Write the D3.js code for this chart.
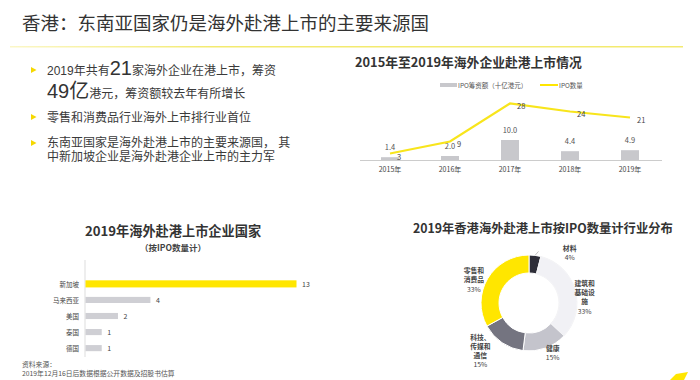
<!DOCTYPE html>
<html><head><meta charset="utf-8">
<script src="https://cdn.jsdelivr.net/npm/d3@7"></script>
<style>
html,body{margin:0;padding:0;background:#fff;}
svg{display:block;font-family:"Noto Sans CJK SC","Noto Sans",sans-serif;}
.bul{font-family:"Liberation Sans","Noto Sans CJK SC",sans-serif;}
</style></head>
<body>
<svg id="c" width="700" height="380"></svg>
<script>
// ---- data ----
const years = ["2015年","2016年","2017年","2018年","2019年"];
const ipoAmount = [1.4, 2.0, 10.0, 4.4, 4.9];   // 十亿港元
const ipoCount = [3, 9, 28, 24, 21];
const countries = ["新加坡","马来西亚","美国","泰国","德国"];
const countryCounts = [13, 4, 2, 1, 1];
const industries = ["材料","建筑和基础设施","健康","科技、传媒和通信","零售和消费品"];
const industryShares = [4, 33, 15, 15, 33];
const industryLabelLines = [["材料"],["建筑和","基础设","施"],["健康"],["科技、","传媒和","通信"],["零售和","消费品"]];

const YELLOW = "#ffe600", DARK = "#2e2e38";
const svg = d3.select("#c");
svg.append("rect").attr("width",700).attr("height",380).attr("fill","#fff");

// ---- header ----
svg.append("text").attr("x",22).attr("y",22).attr("dominant-baseline","central")
  .attr("font-size",18.5).attr("fill","#333").text("香港：东南亚国家仍是海外赴港上市的主要来源国");
const g0 = svg.append("defs").append("linearGradient").attr("id","rule");
g0.append("stop").attr("offset","0%").attr("stop-color","#fbf7c8");
g0.append("stop").attr("offset","30%").attr("stop-color","#f3ea70");
g0.append("stop").attr("offset","100%").attr("stop-color","#f3ea70");
svg.append("rect").attr("x",10).attr("y",46).attr("width",673).attr("height",1.5).attr("fill","url(#rule)");

// ---- bullets ----
function tri(y){ svg.append("path").attr("d",`M31,${y-3}L36.5,${y}L31,${y+3}Z`).attr("fill","#f5d800"); }
tri(70); tri(117); tri(143);
let t = svg.append("text").attr("class","bul").attr("x",47).attr("y",75).attr("fill","#3a3a3a").attr("font-size",12);
t.append("tspan").text("2019年共有");
t.append("tspan").attr("font-size",20).attr("fill","#333").text("21");
t.append("tspan").text("家海外企业在港上市，筹资");
t = svg.append("text").attr("class","bul").attr("x",47).attr("y",97.5).attr("fill","#3a3a3a").attr("font-size",12);
t.append("tspan").attr("font-size",20).attr("fill","#333").text("49亿");
t.append("tspan").text("港元，筹资额较去年有所增长");
svg.append("text").attr("class","bul").attr("x",47).attr("y",121.5).attr("fill","#3a3a3a").attr("font-size",12).text("零售和消费品行业海外上市排行业首位");
svg.append("text").attr("class","bul").attr("x",47).attr("y",147.3).attr("fill","#3a3a3a").attr("font-size",12).text("东南亚国家是海外赴港上市的主要来源国， 其");
svg.append("text").attr("class","bul").attr("x",47).attr("y",161).attr("fill","#3a3a3a").attr("font-size",12).text("中新加坡企业是海外赴港企业上市的主力军");

// ---- chart 1: bars + line ----
const x1 = d3.scaleBand().domain(years).range([360,660]).paddingInner(0.7).paddingOuter(0.35);
const y1 = d3.scaleLinear().domain([0,30]).range([160,100]);
svg.append("text").attr("x",355).attr("y",61).attr("dominant-baseline","central")
  .attr("font-size",12.8).attr("font-weight","bold").attr("fill","#333").text("2015年至2019年海外企业赴港上市情况");
// legend
svg.append("rect").attr("x",440).attr("y",83).attr("width",17).attr("height",4).attr("fill","#c8c8cc");
svg.append("text").attr("x",458).attr("y",85).attr("dominant-baseline","central").attr("font-size",6.5).attr("fill","#555").text("IPO筹资额（十亿港元）");
svg.append("line").attr("x1",540).attr("x2",558).attr("y1",85).attr("y2",85).attr("stroke",YELLOW).attr("stroke-width",2);
svg.append("text").attr("x",559).attr("y",85).attr("dominant-baseline","central").attr("font-size",6.5).attr("fill","#555").text("IPO数量");
// bars
svg.selectAll(".b1").data(years).join("rect")
  .attr("x",d=>x1(d)).attr("width",x1.bandwidth())
  .attr("y",(d,i)=>y1(ipoAmount[i])).attr("height",(d,i)=>y1(0)-y1(ipoAmount[i]))
  .attr("fill","#c8c8cc");
svg.selectAll(".bl").data(years).join("text")
  .attr("x",d=>x1(d)+x1.bandwidth()/2).attr("y",(d,i)=>y1(ipoAmount[i])-7)
  .attr("text-anchor","middle").attr("font-size",7.5).attr("fill","#555")
  .text((d,i)=>ipoAmount[i].toFixed(1));
// axis
const ax = svg.append("g").attr("transform","translate(0,160)").call(d3.axisBottom(x1).tickSize(0).tickPadding(7));
ax.select(".domain").attr("stroke","#ccc").attr("d","M360,0.5H662");
ax.selectAll("text").attr("font-size",7).attr("fill","#444").attr("font-family",'"Noto Sans CJK SC",sans-serif');
// line
const cx = d=>x1(d)+x1.bandwidth()/2;
svg.append("path").datum(years)
  .attr("d", d3.line().x(cx).y((d,i)=>y1(ipoCount[i])-0.5))
  .attr("fill","none").attr("stroke","#f8e51c").attr("stroke-width",2.2);
svg.selectAll(".ll").data(years).join("text")
  .attr("x",d=>cx(d)+7).attr("y",(d,i)=>y1(ipoCount[i])+ (i===0?2:1))
  .attr("dominant-baseline","central").attr("font-size",7.5).attr("fill","#444")
  .text((d,i)=>ipoCount[i]);

// ---- chart 2: horizontal bars ----
svg.append("text").attr("x",173).attr("y",230).attr("text-anchor","middle").attr("dominant-baseline","central")
  .attr("font-size",13.2).attr("font-weight","bold").attr("fill","#333").text("2019年海外赴港上市企业国家");
svg.append("text").attr("x",173).attr("y",247).attr("text-anchor","middle").attr("dominant-baseline","central")
  .attr("font-size",8.5).attr("font-weight","bold").attr("fill","#444").text("（按IPO数量计）");
const x2 = d3.scaleLinear().domain([0,13]).range([85,296]);
const y2 = d3.scaleBand().domain(countries).range([276,356]).paddingInner(0.62).paddingOuter(0.3);
svg.append("line").attr("x1",85).attr("x2",85).attr("y1",260).attr("y2",357).attr("stroke","#ddd");
svg.selectAll(".hb").data(countries).join("rect")
  .attr("x",x2(0)+0.5).attr("y",(d,i)=>y2(d)-(i===0?0.5:0)).attr("height",(d,i)=>y2.bandwidth()+(i===0?1:0))
  .attr("width",(d,i)=>x2(countryCounts[i])-x2(0))
  .attr("fill",(d,i)=>i===0?YELLOW:"#cfcfd4");
svg.selectAll(".hl").data(countries).join("text")
  .attr("x",79).attr("y",d=>y2(d)+y2.bandwidth()/2).attr("text-anchor","end").attr("dominant-baseline","central")
  .attr("font-size",6.5).attr("fill","#444").text(d=>d);
svg.selectAll(".hv").data(countries).join("text")
  .attr("x",(d,i)=>x2(countryCounts[i])+6).attr("y",d=>y2(d)+y2.bandwidth()/2).attr("dominant-baseline","central")
  .attr("font-size",7).attr("fill","#444").text((d,i)=>countryCounts[i]);
t = svg.append("text").attr("x",22).attr("y",364).attr("font-size",6.8).attr("fill","#555");
t.append("tspan").attr("dominant-baseline","central").text("资料来源：");
t.append("tspan").attr("x",22).attr("y",373).attr("dominant-baseline","central").text("2019年12月16日后数据根据公开数据及招股书估算");

// ---- chart 3: donut ----
svg.append("text").attr("x",413).attr("y",228).attr("dominant-baseline","central")
  .attr("font-size",12.3).attr("font-weight","bold").attr("fill","#333").text("2019年香港海外赴港上市按IPO数量计行业分布");
const dc = [529,303];
const colors = [DARK,"#f1f1f5","#c4c4cc","#747480",YELLOW];
const pie = d3.pie().sort(null).value(d=>d)(industryShares);
const arc = d3.arc().innerRadius(30).outerRadius(48);
const dg = svg.append("g").attr("transform",`translate(${dc[0]},${dc[1]})`);
dg.selectAll("path").data(pie).join("path").attr("d",arc)
  .attr("fill",(d,i)=>colors[i]).attr("stroke","#fff").attr("stroke-width",1);
dg.append("path").datum(pie[1]).attr("d",arc).attr("fill","none").attr("stroke","#e6e6ea").attr("stroke-width",0.5);
// leader line for materials
const ma = (pie[0].startAngle+pie[0].endAngle)/2;
dg.append("line").attr("x1",Math.sin(ma)*48).attr("y1",-Math.cos(ma)*48)
  .attr("x2",Math.sin(ma)*52+3).attr("y2",-Math.cos(ma)*52).attr("stroke","#999").attr("stroke-width",0.6);
const labelAngleShift = [0.55,0.17,-0.1,0.2,-0.13];
const labelR = [65,56,55,68,60];
pie.forEach((p,i)=>{
  const a = (p.startAngle+p.endAngle)/2 + labelAngleShift[i];
  const lx = Math.sin(a)*labelR[i], ly = -Math.cos(a)*labelR[i];
  const lines = industryLabelLines[i].concat([industryShares[i]+"%"]);
  const lh = 9.3;
  const tx = dg.append("text").attr("text-anchor","middle").attr("font-size",6.8).attr("fill","#444");
  lines.forEach((s,j)=>{
    tx.append("tspan").attr("x",lx).attr("y",ly+(j-(lines.length-1)/2)*lh).attr("dominant-baseline","central")
      .attr("font-weight", j===lines.length-1?"normal":"bold").text(s);
  });
});
// corner logo fragment
svg.append("path").attr("d","M670,380L676,374L688,372L684,380Z").attr("fill",YELLOW);
</script>
</body></html>
